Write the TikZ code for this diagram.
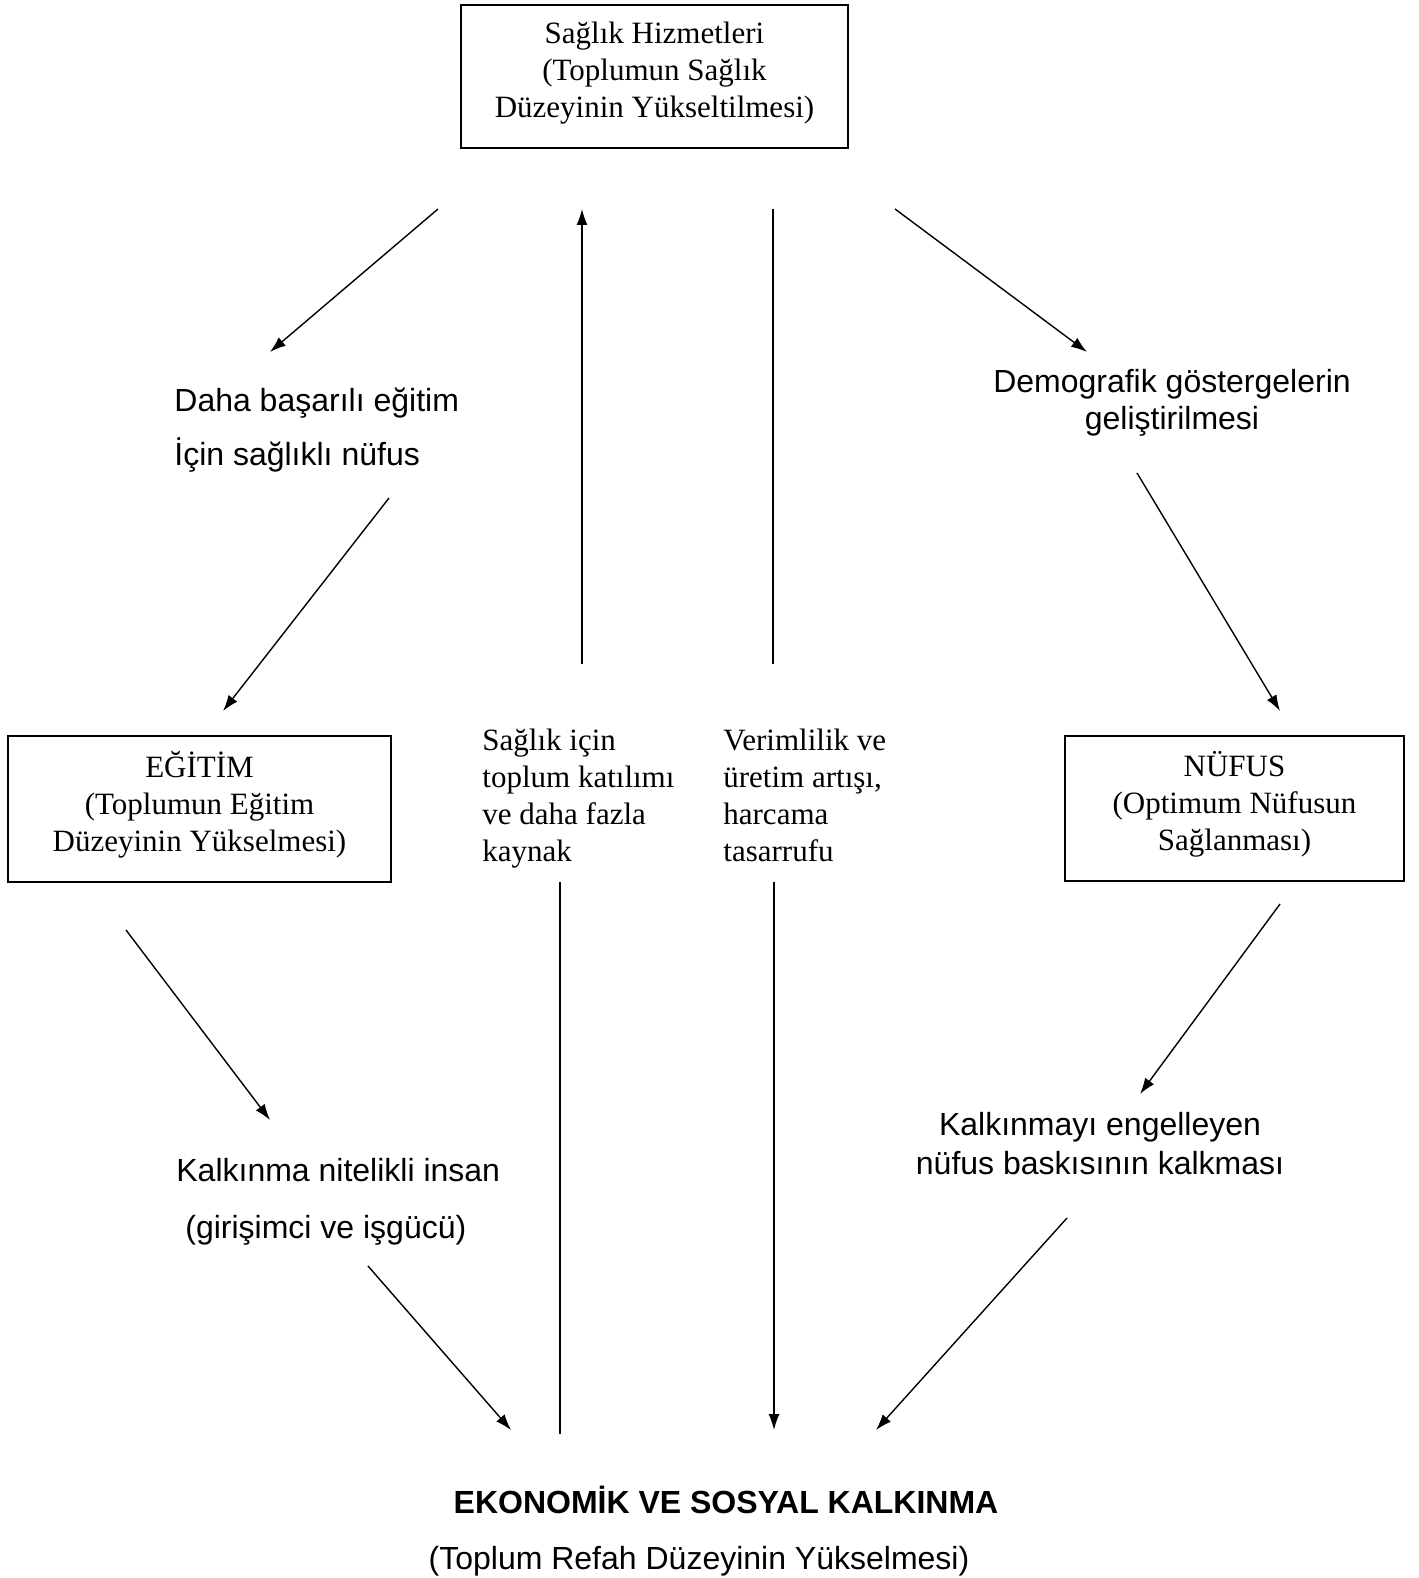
\documentclass[tikz,border=0pt]{standalone}
\usepackage{fontspec}
\setmainfont{Liberation Serif}
\setsansfont{Liberation Sans}
\usetikzlibrary{arrows.meta}

\begin{document}
\begin{tikzpicture}[x=0.5pt,y=-0.5pt]
    \tikzset{
        box/.style = {
            draw,
            line width = 0.8pt,
            inner sep = 0pt
        },
        boxtext/.style = {
            align = center,
            inner sep = 0pt,
            font = \fontsize{15.5}{18.5}\selectfont
        },
        serif/.style = {
            align = left,
            anchor = west,
            inner sep = 0pt,
            font = \fontsize{15.5}{18.5}\selectfont
        },
        label/.style = {
            inner sep = 0pt,
            font = \sffamily\fontsize{16}{18.5}\selectfont
        },
        arrow/.style = {
            line width = 0.7pt,
            -{Latex[length = 8pt, width = 5.5pt]}
        },
        plain/.style = {
            line width = 0.7pt
        }
    }

    \useasboundingbox (0,0) rectangle (1418,1578);

    % boxes
    \node[box, minimum width = 193.5pt, minimum height = 71.5pt] (saglik) at (654.5,76.5) {};
    \node[boxtext] (saglikT) at (654.5,73.5)
        {Sağlık Hizmetleri\\(Toplumun Sağlık\\Düzeyinin Yükseltilmesi)};
    \node[box, minimum width = 191.5pt, minimum height = 73pt] (egitim) at (199.5,809) {};
    \node[boxtext] (egitimT) at (199.5,805)
        {EĞİTİM\\(Toplumun Eğitim\\Düzeyinin Yükselmesi)};
    \node[box, minimum width = 169.5pt, minimum height = 72.5pt] (nufus) at (1234.5,808.5) {};
    \node[boxtext] (nufusT) at (1234.5,804.5)
        {NÜFUS\\(Optimum Nüfusun\\Sağlanması)};

    % texts between the arrows
    \node[serif] (katilim) at (482,799)
        {Sağlık için\\toplum katılımı\\ve daha fazla\\kaynak};
    \node[serif] (verim) at (723,795)
        {Verimlilik ve\\üretim artışı,\\harcama\\tasarrufu};

    \node[label, anchor = west, align = left, font = \sffamily\fontsize{16}{27}\selectfont] (daha) at (174,430)
        {Daha başarılı eğitim\\İçin sağlıklı nüfus};
    \node[label, align = center] (demog) at (1172,403)
        {Demografik göstergelerin\\geliştirilmesi};
    \node[label, anchor = west, align = left, font = \sffamily\fontsize{16}{28.5}\selectfont] (insan) at (176,1202)
        {Kalkınma nitelikli insan\\\hspace*{4.5pt}(girişimci ve işgücü)};
    \node[label, align = center, font = \sffamily\fontsize{16}{19.5}\selectfont] (baski) at (1100,1144)
        {Kalkınmayı engelleyen\\nüfus baskısının kalkması};

    \node[label, font = \sffamily\bfseries\fontsize{16}{18.5}\selectfont] (kalkinma) at (726,1500)
        {EKONOMİK VE SOSYAL KALKINMA};
    \node[label] (refah) at (699,1561)
        {(Toplum Refah Düzeyinin Yükselmesi)};

    % arrow ends
    \foreach \n/\a/\b in {
        1/{438,209}/{270,352},  2/{582,664}/{582,209},
        3/{773,209}/{773,664},  4/{895,209}/{1087,352},
        5/{389,498}/{223,711},  6/{1137,473}/{1280,711},
        7/{560,882}/{560,1434}, 8/{774,882}/{774,1430},
        9/{126,930}/{270,1120}, 10/{1280,904}/{1140,1094},
        11/{368,1266}/{511,1430}, 12/{1067,1218}/{876,1430}}{
        \coordinate (p\n) at (\a);
        \coordinate (q\n) at (\b);
    }

    \foreach \n in {1, 2, 4, 5, 6, 8, 9, 10, 11, 12}{
        \draw[arrow] (p\n) -- (q\n);
    }
    \draw[plain] (p3) -- (q3);
    \draw[plain] (p7) -- (q7);

\end{tikzpicture}
\end{document}
